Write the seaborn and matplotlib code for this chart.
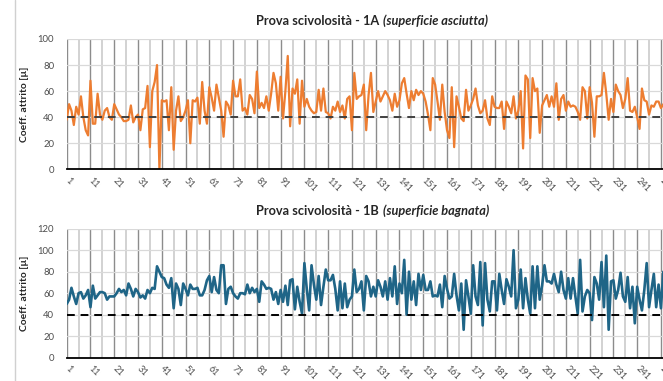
import matplotlib
matplotlib.use("Agg")
import matplotlib.pyplot as plt
import seaborn as sns
import pandas as pd
from matplotlib.ticker import FixedLocator

# Prova 1A - superficie asciutta (prove 1..252)
dry_values = [
    38, 50, 45, 34, 48, 42, 56, 40, 30, 26,
    68, 35, 35, 58, 42, 38, 45, 47, 40, 38,
    50, 46, 42, 40, 37, 37, 38, 49, 36, 40,
    42, 30, 46, 47, 64, 17, 60, 67, 80, 0,
    53, 52, 53, 30, 63, 15, 45, 56, 37, 40,
    45, 53, 20, 53, 52, 55, 35, 67, 45, 35,
    63, 55, 45, 65, 55, 45, 25, 52, 49, 42,
    68, 56, 56, 69, 45, 47, 42, 57, 54, 43,
    75, 47, 51, 47, 56, 45, 58, 74, 66, 45,
    71, 39, 60, 87, 33, 62, 58, 69, 35, 68,
    48, 54, 48, 45, 43, 44, 61, 45, 62, 44,
    43, 39, 48, 45, 52, 44, 49, 39, 54, 56,
    30, 74, 54, 56, 57, 65, 30, 57, 74, 44,
    52, 60, 52, 56, 60, 57, 53, 45, 58, 48,
    53, 66, 70, 58, 47, 60, 53, 61, 57, 60,
    58, 52, 42, 30, 70, 65, 52, 38, 65, 44,
    30, 24, 63, 17, 56, 48, 39, 37, 61, 45,
    49, 54, 62, 49, 43, 45, 53, 39, 34, 56,
    48, 47, 47, 52, 31, 52, 48, 43, 56, 39,
    45, 60, 16, 72, 69, 24, 70, 60, 62, 28,
    49, 53, 57, 48, 56, 48, 66, 38, 54, 57,
    45, 52, 48, 49, 48, 44, 38, 63, 60, 39,
    63, 51, 25, 56, 56, 57, 74, 58, 38, 54,
    44, 65, 60, 57, 47, 54, 70, 45, 44, 48,
    40, 31, 62, 53, 52, 42, 49, 48, 52, 52,
    47, 50,
]

# Prova 1B - superficie bagnata (prove 1..252)
wet_values = [
    50, 54, 65, 57, 50, 60, 61, 55, 58, 63,
    47, 67, 55, 58, 61, 61, 60, 54, 57, 57,
    57, 60, 64, 61, 63, 58, 69, 64, 57, 64,
    61, 56, 58, 55, 63, 60, 65, 64, 85, 80,
    75, 74, 68, 65, 74, 46, 69, 64, 49, 69,
    64, 58, 68, 64, 64, 65, 58, 58, 63, 72,
    76, 61, 75, 63, 60, 86, 86, 50, 64, 66,
    60, 57, 55, 60, 60, 59, 68, 60, 65, 61,
    64, 52, 71, 68, 64, 65, 64, 54, 61, 50,
    63, 52, 67, 49, 72, 73, 45, 66, 52, 41,
    88, 64, 44, 86, 68, 54, 76, 49, 66, 82,
    72, 72, 77, 64, 44, 71, 46, 69, 47, 54,
    57, 82, 61, 64, 71, 44, 76, 71, 57, 66,
    57, 72, 66, 57, 71, 54, 74, 57, 85, 50,
    69, 60, 91, 40, 80, 54, 71, 49, 78, 63,
    77, 63, 63, 71, 57, 58, 57, 68, 47, 76,
    64, 55, 57, 78, 58, 44, 69, 26, 72, 57,
    41, 86, 57, 49, 89, 30, 88, 54, 43, 71,
    71, 44, 78, 63, 50, 73, 66, 57, 100, 46,
    54, 82, 46, 74, 54, 41, 85, 46, 85, 54,
    67, 86, 71, 71, 69, 78, 68, 61, 80, 63,
    55, 74, 55, 74, 57, 41, 91, 43, 57, 63,
    60, 35, 75, 69, 54, 89, 47, 95, 26, 71,
    72, 55, 63, 79, 57, 52, 75, 46, 66, 32,
    66, 54, 44, 63, 88, 47, 63, 78, 47, 68,
    46, 80,
]

threshold = 40
titles = [("Prova scivolosità - 1A ", "(superficie asciutta)"),
          ("Prova scivolosità - 1B ", "(superficie bagnata)")]
y_ticks = [list(range(0, 101, 20)), list(range(0, 121, 20))]
y_label = "Coeff. attrito [µ]"
x_labels = list(range(1, 252, 10))

sns.set_style("white")
plt.rcParams['font.family'] = ['Lato', 'DejaVu Sans']

W, H = 663, 381
fig = plt.figure(figsize=(W / 100, H / 100), dpi=100)

x0 = 66.7
px_per_pt = 2.377
x_right = 1 + (W - x0) / px_per_pt

# axes in pixel boxes: (top, bottom)
boxes = [(39.0, 169.3), (228.7, 357.7)]
colors = ["#ED7D31", "#1F6587"]
series = [dry_values, wet_values]
dash_colors = ["#404040", "#000000"]
title_y = [21, 211]

for k in range(2):
    top, bot = boxes[k]
    ax = fig.add_axes([x0 / W, 1 - bot / H, (W - x0) / W, (bot - top) / H])
    df = pd.DataFrame({"prova": range(1, len(series[k]) + 1), "coeff": series[k]})

    # grid first
    for xv in range(1, 256, 5):
        major = (xv - 1) % 10 == 0
        ax.axvline(xv, color="#8c8c8c" if major else "#cfcfcf",
                   lw=1.0 if major else 1.3, zorder=0)
    for yv in y_ticks[k][1:]:
        ax.axhline(yv, color="#d9d9d9", lw=0.9, zorder=0)

    sns.lineplot(data=df, x="prova", y="coeff", ax=ax, color=colors[k],
                 lw=1.6 if k == 0 else 1.9, zorder=3)
    ax.axhline(threshold, color=dash_colors[k], lw=1.4, ls=(0, (4, 3)), zorder=4)

    ax.set_xlim(1, x_right)
    ax.set_ylim(0, y_ticks[k][-1])
    ax.set_yticks(y_ticks[k])
    ax.xaxis.set_major_locator(FixedLocator(x_labels))
    ax.xaxis.set_minor_locator(FixedLocator(list(range(6, 256, 10))))
    ax.set_xticklabels([str(v) for v in x_labels], rotation=-45, ha="left",
                       va="center", rotation_mode="anchor")
    ax.tick_params(axis="x", which="both", direction="out", length=3,
                   width=0.8, color="#404040", labelsize=6.6,
                   labelcolor="#4d4d4d", pad=4)
    ax.tick_params(axis="y", length=0, labelsize=6.8, labelcolor="#4d4d4d", pad=9)
    ax.set_xlabel("")
    ax.set_ylabel(y_label, fontsize=7.4, fontweight="bold", color="#262626", labelpad=6)
    for side in ["left", "right", "top"]:
        ax.spines[side].set_visible(False)
    ax.spines["bottom"].set_color("#000000")
    ax.spines["bottom"].set_linewidth(1.3)
    ax.spines["bottom"].set_zorder(5)

    # title: bold part + bold italic part
    t1, t2 = titles[k]
    fig.text(382 / W, 1 - title_y[k] / H, t1, ha="right", va="center",
             fontsize=9.2, fontweight="bold", color="#262626")
    fig.text(383 / W, 1 - title_y[k] / H, t2, ha="left", va="center",
             fontsize=9.2, fontweight="bold", fontstyle="italic", color="#262626")

# left border of the frame
fig.add_artist(plt.Line2D([15 / W, 15 / W], [0, 1], color="#d0d0d0", lw=1.0))

fig.savefig("out.png", dpi=100)
